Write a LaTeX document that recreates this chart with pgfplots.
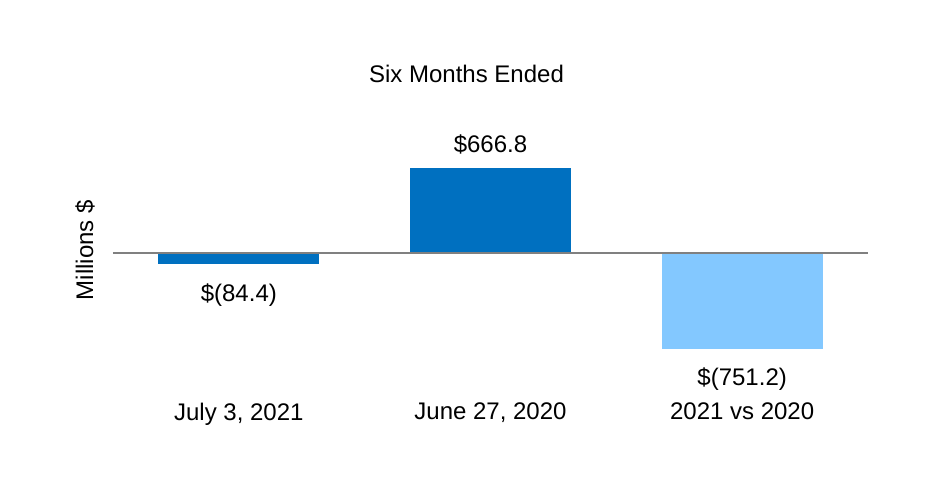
\documentclass[border=0pt]{standalone}
\usepackage{fontspec}
\setmainfont{Liberation Sans}
\usepackage{pgfplots}
\pgfplotsset{compat=1.18}

\definecolor{darkblue}{HTML}{0070C0}
\definecolor{lightblue}{HTML}{83C8FF}
\definecolor{zeroline}{HTML}{808080}

\begin{document}
\begin{tikzpicture}[font=\fontsize{12}{14}\selectfont]
  % page frame: 932x488 px at 0.5pt per px
  \path[use as bounding box] (-56.5pt,-44pt) rectangle (409.5pt,200pt);
  \begin{axis}[
      scale only axis,
      width=377.5pt, height=150pt,
      xmin=-0.5, xmax=2.5,
      ymin=-1148, ymax=1195,
      axis line style={draw=none},
      ytick=\empty,
      xtick={0,1,2},
      xticklabels={{July 3, 2021},{June 27, 2020},{2021 vs 2020}},
      major tick length=0pt,
      xticklabel style={yshift=2pt},
      ybar, bar width=80.5pt, bar shift=0pt,
      clip=false,
      nodes near coords,
      point meta=explicit symbolic,
    ]
    \addplot[fill=darkblue, draw=none,
      every node near coord/.append style={anchor=north, yshift=-6.5pt}]
      coordinates {(0,-84.4) [\$(84.4)]};
    \addplot[fill=darkblue, draw=none,
      every node near coord/.append style={anchor=south, yshift=3pt}]
      coordinates {(1,666.8) [\$666.8]};
    \addplot[fill=lightblue, draw=none,
      every node near coord/.append style={anchor=north, yshift=-5.5pt}]
      coordinates {(2,-751.2) [\$(751.2)]};
    \draw[zeroline, line width=0.75pt] (axis cs:-0.5,0) -- (axis cs:2.5,0);
    \node at (rel axis cs:0.5,1) [xshift=-12pt, yshift=13pt] {Six Months Ended};
    \node at (rel axis cs:0,0.5) [xshift=-14pt, rotate=90] {Millions \$};
  \end{axis}
\end{tikzpicture}
\end{document}
